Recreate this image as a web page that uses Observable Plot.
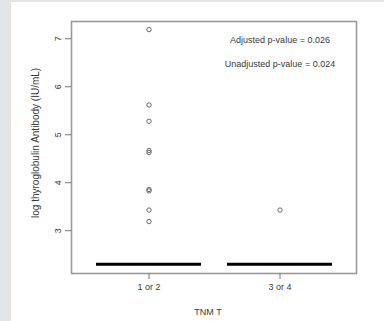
<!DOCTYPE html>
<html>
<head>
<meta charset="utf-8">
<script src="https://cdn.jsdelivr.net/npm/d3@7"></script>
<script src="https://cdn.jsdelivr.net/npm/@observablehq/plot@0.6"></script>
<style>
  html, body { margin: 0; padding: 0; background: #ffffff; }
  #page { position: relative; width: 384px; height: 321px; overflow: hidden; background: #ffffff; }
  #stripL { position: absolute; left: 0; top: 0; width: 11px; height: 321px; background: #e3e6e9; }
  #stripT { position: absolute; left: 0; top: 0; width: 384px; height: 2px; background: #e3e6e9; }
  #chart { position: absolute; left: 0; top: 0; }
  svg { font-family: "Liberation Sans", Arial, sans-serif; }
</style>
</head>
<body>
<div id="page">
  <div id="stripL"></div>
  <div id="stripT"></div>
  <div id="chart"></div>
</div>
<script>
// Categories (TNM T groups)
const groups = ["1 or 2", "3 or 4"];
// Median of log thyroglobulin antibody per group
const medians = [2.303, 2.303];
// Outlier points (group, value)
const outlierGroups = ["1 or 2", "1 or 2", "1 or 2", "1 or 2", "1 or 2", "1 or 2", "1 or 2", "1 or 2", "1 or 2", "3 or 4"];
const outlierValues = [7.19, 5.62, 5.28, 4.67, 4.63, 3.86, 3.83, 3.43, 3.19, 3.43];
// Y ticks
const yTicks = [3, 4, 5, 6, 7];
// Annotations
const annotationLines = ["Adjusted p-value = 0.026", "Unadjusted p-value = 0.024"];
const annotationY = [6.97, 6.47];
const annotationGroup = "3 or 4";
const xLabel = "TNM T";
const yLabel = "log thyroglobulin Antibody (IU/mL)";
const yLabelAt = 4.83;

const medianData = groups.map((g, i) => ({group: g, median: medians[i]}));
const outliers = outlierGroups.map((g, i) => ({group: g, value: outlierValues[i]}));
const annotations = annotationLines.map((t, i) => ({text: t, y: annotationY[i], group: annotationGroup}));

const textColor = "#3a3a3a";

const chart = Plot.plot({
  width: 384,
  height: 321,
  marginLeft: 71,
  marginRight: 28,
  marginTop: 21,
  marginBottom: 48,
  style: {background: "transparent", fontFamily: "'Liberation Sans', Arial, sans-serif", fontSize: "9px", color: textColor},
  x: {type: "band", domain: groups, paddingInner: 0.2, paddingOuter: 0.18, label: null},
  y: {domain: [2.108, 7.36], label: null},
  marks: [
    Plot.frame({stroke: "#9a9a9a", strokeWidth: 1.6}),
    Plot.axisX({tickSize: 6, tickPadding: 4, stroke: "#777", fill: textColor, fontSize: 9, label: null}),
    Plot.axisY({ticks: yTicks, tickSize: 6, tickFormat: () => "", stroke: "#777", label: null}),
    Plot.text(yTicks, {y: d => d, text: d => String(d), frameAnchor: "left", textAnchor: "middle", lineAnchor: "middle", dx: -13, rotate: -90, fill: textColor, fontSize: 9}),
    Plot.text([yLabel], {y: () => yLabelAt, text: d => d, frameAnchor: "left", textAnchor: "middle", lineAnchor: "middle", dx: -36, rotate: -90, fill: textColor, fontSize: 10}),
    Plot.text([xLabel], {text: d => d, frameAnchor: "bottom", dy: 41, dx: -6, fill: textColor, fontSize: 9}),
    Plot.tickY(medianData, {x: "group", y: "median", stroke: "#000", strokeWidth: 3}),
    Plot.dot(outliers, {x: "group", y: "value", r: 2.2, stroke: "#6a6a6a", strokeWidth: 1, fill: "none"}),
    Plot.text(annotations, {x: "group", y: "y", text: "text", fill: textColor, fontSize: 9})
  ]
});
document.getElementById("chart").appendChild(chart);
</script>
</body>
</html>
